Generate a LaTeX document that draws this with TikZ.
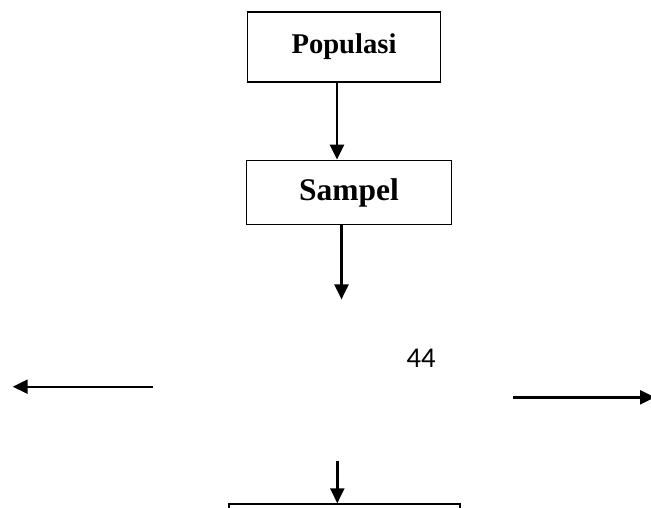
\documentclass[tikz,border=0pt]{standalone}
\usepackage{fontspec}
\setmainfont{Liberation Serif}
\newfontfamily\pagefont{Carlito}
\usetikzlibrary{positioning, arrows.meta}

\begin{document}
\begin{tikzpicture}[-{Triangle[length=15pt,width=14pt]},line width=2.4pt,
		x=1pt,y=-1pt]
		\tikzstyle{box}=[draw,line width=1.8pt,inner sep=0pt,
			font=\bfseries\fontsize{28.6}{34}\selectfont]
		\useasboundingbox (0,0) rectangle (651,507);
		\node[box, minimum width=193pt, minimum height=70pt] (pop) at (344,46.7) {Populasi};
		\node[box, minimum width=205pt, minimum height=64pt, below=77pt of pop, xshift=5pt,
			font=\bfseries\fontsize{31.5}{38}\selectfont] (sam) {Sampel};
		\coordinate[below=74pt of sam.south, xshift=-7.5pt] (mid);
		\node[font=\pagefont\fontsize{28.6}{34}\selectfont] (pg) at (421,358) {44};
		\coordinate (lt) at (153,386.7);
		\coordinate (lh) at (12.7,386.7);
		\coordinate (rt) at (513,397.3);
		\coordinate (rh) at (655,397.3);
		\coordinate (bt) at (337.3,460.7);
		\node[box, minimum width=231pt, minimum height=60pt, anchor=north] (res) at (344.7,503.3) {};

		\draw ([xshift=-7pt]pop.south) -- ([xshift=-12pt]sam.north);
		\draw ([xshift=-7.5pt]sam.south) -- (mid);
		\draw (lt) -- (lh);
		\draw (rt) -- (rh);
		\draw (bt) -- ([xshift=-7.4pt]res.north);
	\end{tikzpicture}
\end{document}
